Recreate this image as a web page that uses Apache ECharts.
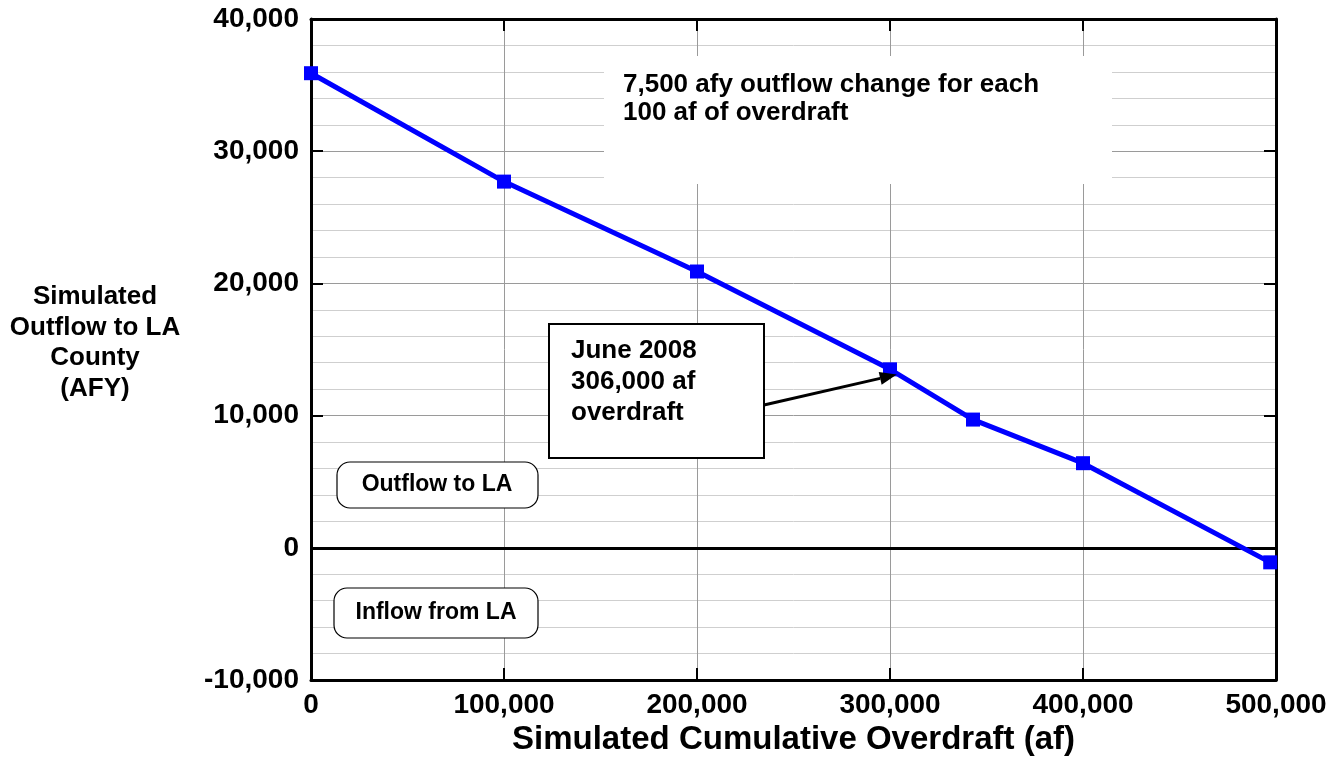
<!DOCTYPE html>
<html>
<head>
<meta charset="utf-8">
<title>Simulated Outflow to LA County</title>
<script src="https://cdn.jsdelivr.net/npm/echarts@6/dist/echarts.min.js"></script>
<style>
  html, body { margin: 0; padding: 0; background: #fff; }
  #chart { width: 1338px; height: 767px; }
</style>
</head>
<body>
<div id="chart"></div>
<script>
  // cumulative overdraft (af) and simulated outflow (afy)
  var overdraft = [0, 100000, 200000, 300000, 343000, 400000, 497000]
  var outflow = [35900, 27700, 20900, 13500, 9700, 6400, -1100]
  var xTicks = [0, 100000, 200000, 300000, 400000, 500000]
  var yTicks = [-10000, 0, 10000, 20000, 30000, 40000]

  var FONT = '"Liberation Sans", Arial, sans-serif'
  var fmt = function (v) { return v.toLocaleString('en-US') }

  var chart = echarts.init(document.getElementById('chart'))

  var frameAxis = {
    axisLine: { show: true, onZero: false, lineStyle: { color: '#000', width: 3 } },
    axisTick: { show: true, inside: true, length: 12, lineStyle: { color: '#000', width: 2 } },
    axisLabel: { show: false },
    splitLine: { show: false }
  }

  chart.setOption({
    animation: false,
    textStyle: { fontFamily: FONT },
    grid: { left: 311, right: 62, top: 19, bottom: 87 },
    xAxis: [
      {
        type: 'value',
        min: xTicks[0],
        max: xTicks[xTicks.length - 1],
        interval: 100000,
        name: 'Simulated Cumulative Overdraft (af)',
        nameLocation: 'middle',
        nameGap: 23,
        nameTextStyle: { fontSize: 33, fontWeight: 'bold', color: '#000', fontFamily: FONT },
        axisLine: { show: true, onZero: false, lineStyle: { color: '#000', width: 3 } },
        axisTick: { show: true, inside: true, length: 12, lineStyle: { color: '#000', width: 2 } },
        axisLabel: { fontSize: 28, fontWeight: 'bold', color: '#000', margin: 11, formatter: fmt, fontFamily: FONT },
        splitLine: { show: true, lineStyle: { color: '#9a9a9a', width: 1 } }
      },
      Object.assign({ type: 'value', position: 'top', min: 0, max: 500000, interval: 100000 }, frameAxis)
    ],
    yAxis: [
      {
        type: 'value',
        min: yTicks[0],
        max: yTicks[yTicks.length - 1],
        interval: 10000,
        axisLine: { show: true, onZero: false, lineStyle: { color: '#000', width: 3 } },
        axisTick: { show: true, inside: true, length: 12, lineStyle: { color: '#000', width: 2 } },
        axisLabel: { fontSize: 28, fontWeight: 'bold', color: '#000', margin: 12, formatter: fmt, fontFamily: FONT },
        splitLine: { show: true, lineStyle: { color: '#9a9a9a', width: 1 } },
        minorTick: { show: false, splitNumber: 5 },
        minorSplitLine: { show: true, lineStyle: { color: '#cfcfcf', width: 1 } }
      },
      Object.assign({ type: 'value', position: 'right', min: -10000, max: 40000, interval: 10000 }, frameAxis)
    ],
    series: [
      {
        type: 'line',
        data: overdraft.map(function (x, i) { return [x, outflow[i]] }),
        symbol: 'rect',
        symbolSize: 14,
        showAllSymbol: true,
        lineStyle: { color: '#0000ff', width: 5 },
        itemStyle: { color: '#0000ff' },
        z: 5,
        markLine: {
          silent: true,
          symbol: 'none',
          label: { show: false },
          lineStyle: { color: '#000', width: 3, type: 'solid' },
          data: [{ yAxis: 0 }]
        }
      }
    ]
  })

  function note(text, x, y, lh, size, align) {
    return {
      type: 'text', z: 20, x: x, y: y,
      style: {
        text: text, font: 'bold ' + size + 'px ' + FONT, fill: '#000', lineHeight: lh,
        textAlign: align || 'left', textVerticalAlign: 'middle'
      }
    }
  }

  // arrow tip just below the 300,000 point
  var tip = chart.convertToPixel({ xAxisIndex: 0, yAxisIndex: 0 }, [303500, 13100])
  var tail = [764, 405]
  var dx = tip[0] - tail[0], dy = tip[1] - tail[1]
  var len = Math.sqrt(dx * dx + dy * dy)
  var ux = dx / len, uy = dy / len
  var hl = 17, hw = 6.5
  var bx = tip[0] - ux * hl, by = tip[1] - uy * hl

  chart.setOption({
    graphic: [
      // white cover behind the slope note
      { type: 'rect', z: 1, shape: { x: 604, y: 56, width: 508, height: 128 }, style: { fill: '#fff' } },
      note('7,500 afy outflow change for each\n100 af of overdraft', 623, 99, 28, 26),

      // callout box
      { type: 'rect', z: 10, shape: { x: 549, y: 324, width: 215, height: 134 }, style: { fill: '#fff', stroke: '#000', lineWidth: 2 } },
      note('June 2008\n306,000 af\noverdraft', 571, 382, 31, 26),
      { type: 'line', z: 10, shape: { x1: tail[0], y1: tail[1], x2: bx, y2: by }, style: { stroke: '#000', lineWidth: 3 } },
      {
        type: 'polygon', z: 10,
        shape: { points: [[tip[0], tip[1]], [bx - uy * hw, by + ux * hw], [bx + uy * hw, by - ux * hw]] },
        style: { fill: '#000' }
      },

      // rounded labels either side of zero
      { type: 'rect', z: 10, shape: { x: 337, y: 462, width: 201, height: 46, r: 13 }, style: { fill: '#fff', stroke: '#000', lineWidth: 1.2 } },
      note('Outflow to LA', 437, 485, 24, 23, 'center'),
      { type: 'rect', z: 10, shape: { x: 334, y: 588, width: 204, height: 50, r: 13 }, style: { fill: '#fff', stroke: '#000', lineWidth: 1.2 } },
      note('Inflow from LA', 436, 613, 24, 23, 'center'),

      // y axis title
      note('Simulated\nOutflow to LA\nCounty\n(AFY)', 95, 343, 30.5, 26, 'center')
    ]
  })
</script>
</body>
</html>
